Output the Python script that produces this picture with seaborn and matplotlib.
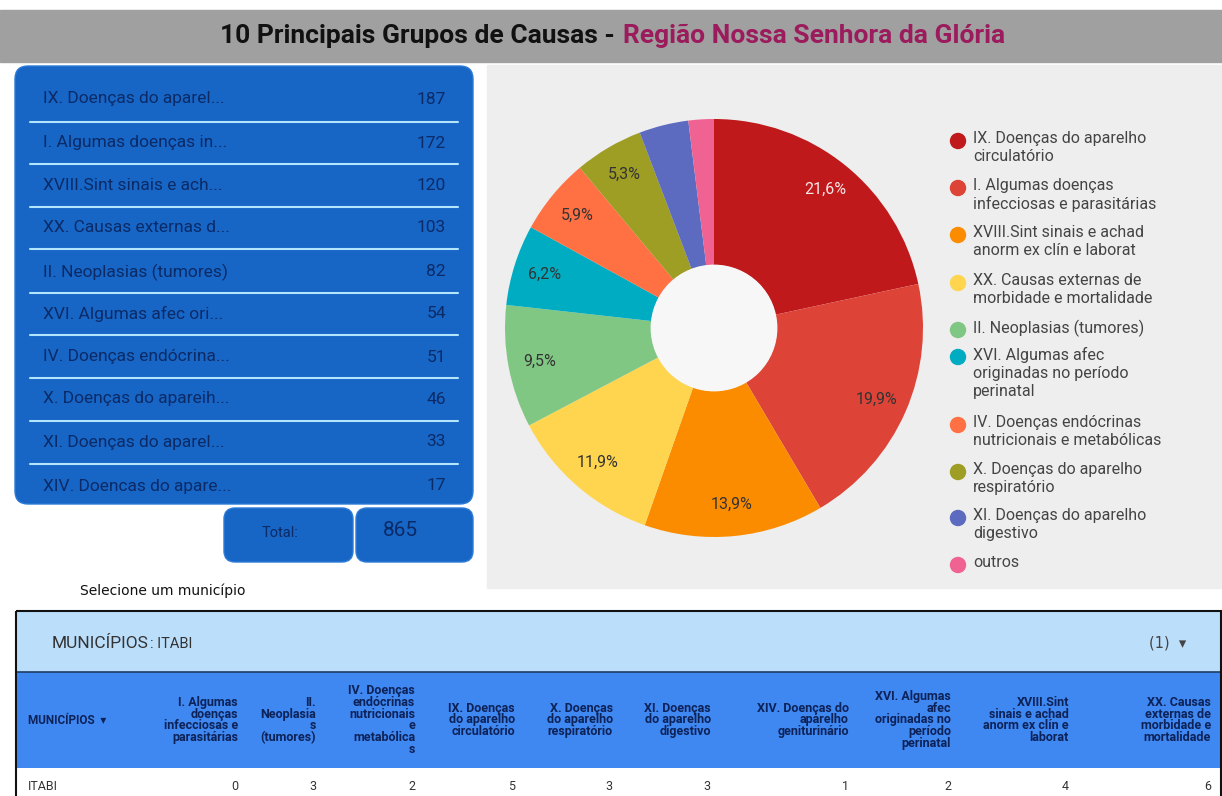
import matplotlib
matplotlib.use("Agg")
import matplotlib.pyplot as plt
from matplotlib.patches import Rectangle, FancyBboxPatch, Circle
import numpy as np
import seaborn as sns

# ---- data ----
list_labels = ["IX. Doenças do aparel...", "I. Algumas doenças in...", "XVIII.Sint sinais e ach...",
               "XX. Causas externas d...", "II. Neoplasias (tumores)", "XVI. Algumas afec ori...",
               "IV. Doenças endócrina...", "X. Doenças do apareih...", "XI. Doenças do aparel...",
               "XIV. Doencas do apare..."]
counts = [187, 172, 120, 103, 82, 54, 51, 46, 33, 17]

pie_labels = ["IX. Doenças do aparelho\ncirculatório",
              "I. Algumas doenças\ninfecciosas e parasitárias",
              "XVIII.Sint sinais e achad\nanorm ex clín e laborat",
              "XX. Causas externas de\nmorbidade e mortalidade",
              "II. Neoplasias (tumores)",
              "XVI. Algumas afec\noriginadas no período\nperinatal",
              "IV. Doenças endócrinas\nnutricionais e metabólicas",
              "X. Doenças do aparelho\nrespiratório",
              "XI. Doenças do aparelho\ndigestivo",
              "outros"]
pie_counts = counts[:9] + [sum(counts[9:])]
pie_colors = ["#c0191c", "#dd4437", "#fb8c00", "#ffd54f", "#81c784",
              "#00acc1", "#ff7043", "#9e9d24", "#5c6bc0", "#f06292"]

table_cols = ["I. Algumas\ndoenças\ninfecciosas e\nparasitárias",
              "II.\nNeoplasia\ns\n(tumores)",
              "IV. Doenças\nendócrinas\nnutricionais\ne\nmetabólica\ns",
              "IX. Doenças\ndo aparelho\ncirculatório",
              "X. Doenças\ndo aparelho\nrespiratório",
              "XI. Doenças\ndo aparelho\ndigestivo",
              "XIV. Doenças do\naparelho\ngeniturinário",
              "XVI. Algumas\nafec\noriginadas no\nperíodo\nperinatal",
              "XVIII.Sint\nsinais e achad\nanorm ex clín e\nlaborat",
              "XX. Causas\nexternas de\nmorbidade e\nmortalidade"]
table_row = "ITABI"
table_values = [0, 3, 2, 5, 3, 3, 1, 2, 4, 6]

# ---- style ----
sns.set_theme(style="white")
plt.rcParams["font.family"] = ["Roboto", "DejaVu Sans"]
palette = sns.color_palette(pie_colors)

W, H = 1222, 796
fig = plt.figure(figsize=(W / 100, H / 100), dpi=100)
fig.patch.set_facecolor("white")
bg = fig.add_axes([0, 0, 1, 1])
bg.set_xlim(0, W)
bg.set_ylim(H, 0)
bg.axis("off")

# title bar
bg.add_patch(Rectangle((0, 10), W, 52, color="#a0a0a0", zorder=1))
bg.text(615, 36, "10 Principais Grupos de Causas -", ha="right", va="center",
        fontsize=19, fontweight="bold", color="#111111", zorder=2)
bg.text(623, 36, "Região Nossa Senhora da Glória", ha="left", va="center",
        fontsize=19, fontweight="bold", color="#9b1b5c", zorder=2)

# pie panel background
bg.add_patch(Rectangle((487, 65), W - 487, 523, color="#eeeeee", zorder=1))

# blue list box
blue = "#1766c6"
navy = "#0b2a66"
bg.add_patch(FancyBboxPatch((15, 66), 458, 438, boxstyle="round,pad=0,rounding_size=13",
                            fc=blue, ec="#2a7ad6", lw=1, zorder=2))
row_y = [99, 143, 186, 228, 272, 314, 357, 399, 442, 486]
sep_y = [122, 164, 207, 249, 293, 335, 378, 421, 464]
for lab, val, y in zip(list_labels, counts, row_y):
    bg.text(43, y, lab, ha="left", va="center", fontsize=12.5,
            color=navy, zorder=3)
    bg.text(446, y, str(val), ha="right", va="center", fontsize=12.5,
            color=navy, zorder=3)
for y in sep_y:
    bg.plot([30, 458], [y, y], color="#b3e5fc", lw=1.5, zorder=3)

# total boxes
bg.add_patch(FancyBboxPatch((224, 508), 129, 54, boxstyle="round,pad=0,rounding_size=11",
                            fc=blue, ec="#2a7ad6", lw=1, zorder=2))
bg.add_patch(FancyBboxPatch((356, 508), 117, 54, boxstyle="round,pad=0,rounding_size=11",
                            fc=blue, ec="#2a7ad6", lw=1, zorder=2))
bg.text(280, 533, "Total:", ha="center", va="center", fontsize=10.5,
        color=navy, zorder=3)
bg.text(400, 531, str(sum(counts)), ha="center", va="center", fontsize=15,
        color=navy, zorder=3)

bg.text(80, 591, "Selecione um município", ha="left", va="center", fontsize=10,
        family="DejaVu Sans", color="#111111")

# ---- donut ----
cx, cy, r = 714, 328, 209
pax = fig.add_axes([(cx - r) / W, (H - cy - r) / H, 2 * r / W, 2 * r / H])
total = sum(pie_counts)
wedges, _ = pax.pie(pie_counts, colors=palette, startangle=90, counterclock=False,
                    radius=1, wedgeprops=dict(width=0.7, edgecolor="none"))
for w, v in zip(wedges, pie_counts):
    pct = 100 * v / total
    if pct < 5:
        continue
    ang = np.deg2rad((w.theta1 + w.theta2) / 2)
    col = "#f5e6e6" if v == max(pie_counts) else "#333333"
    pax.text(0.85 * np.cos(ang), 0.85 * np.sin(ang), f"{pct:.1f}%".replace(".", ","),
             ha="center", va="center", fontsize=11.5, color=col)
pax.add_patch(Circle((0, 0), 0.3, color="#f7f7f7", zorder=3))
pax.set_xlim(-1, 1)
pax.set_ylim(-1, 1)
pax.axis("off")

# legend
leg_y = [141, 188, 235, 283, 330, 357, 425, 472, 518, 565]
for lab, col, y in zip(pie_labels, palette, leg_y):
    bg.add_patch(Circle((958, y), 7.5, color=col, zorder=3))
    bg.text(973, y - 10, lab, ha="left", va="top", fontsize=11.5, color="#444444",
            linespacing=1.25, zorder=3)

# ---- table ----
bg.add_patch(Rectangle((16, 611), 1205, 61, fc="#bbdefb", ec="none", zorder=1))
bg.add_patch(Rectangle((16, 672), 1205, 96, fc="#3f88f2", ec="none", zorder=1))
bg.plot([16, 1221], [672, 672], color="#1f3d66", lw=1.2, zorder=2)
bg.add_patch(Rectangle((16, 611), 1205, 190, fc="none", ec="#111111", lw=1.5, zorder=4))
bg.text(52, 643, "MUNICÍPIOS", ha="left", va="center", fontsize=12.5, color="#333333")
bg.text(150, 644, ": ITABI", ha="left", va="center", fontsize=10.5, color="#333333")
bg.text(1168, 643, "(1)  ▾", ha="center", va="center", fontsize=10.5, color="#444444",
        family=["DejaVu Sans"])

hdr_font = ["Roboto", "DejaVu Sans"]
bg.text(28, 720, "MUNICÍPIOS  ▾", ha="left", va="center", fontsize=8.5, fontweight="bold",
        color="#0d2257", family=hdr_font)
col_right = [238, 316, 415, 515, 613, 711, 849, 951, 1069, 1211]
for lab, xr, val in zip(table_cols, col_right, table_values):
    bg.text(xr, 720, lab, ha="right", va="center", multialignment="right", fontsize=9,
            fontweight="bold", color="#0d2257", linespacing=0.88, family=hdr_font)
    bg.text(xr, 787, str(val), ha="right", va="center", fontsize=9, color="#333333",
            family=hdr_font)
bg.text(28, 787, table_row, ha="left", va="center", fontsize=9, color="#333333",
        family=hdr_font)

fig.savefig("out.png", dpi=100)
